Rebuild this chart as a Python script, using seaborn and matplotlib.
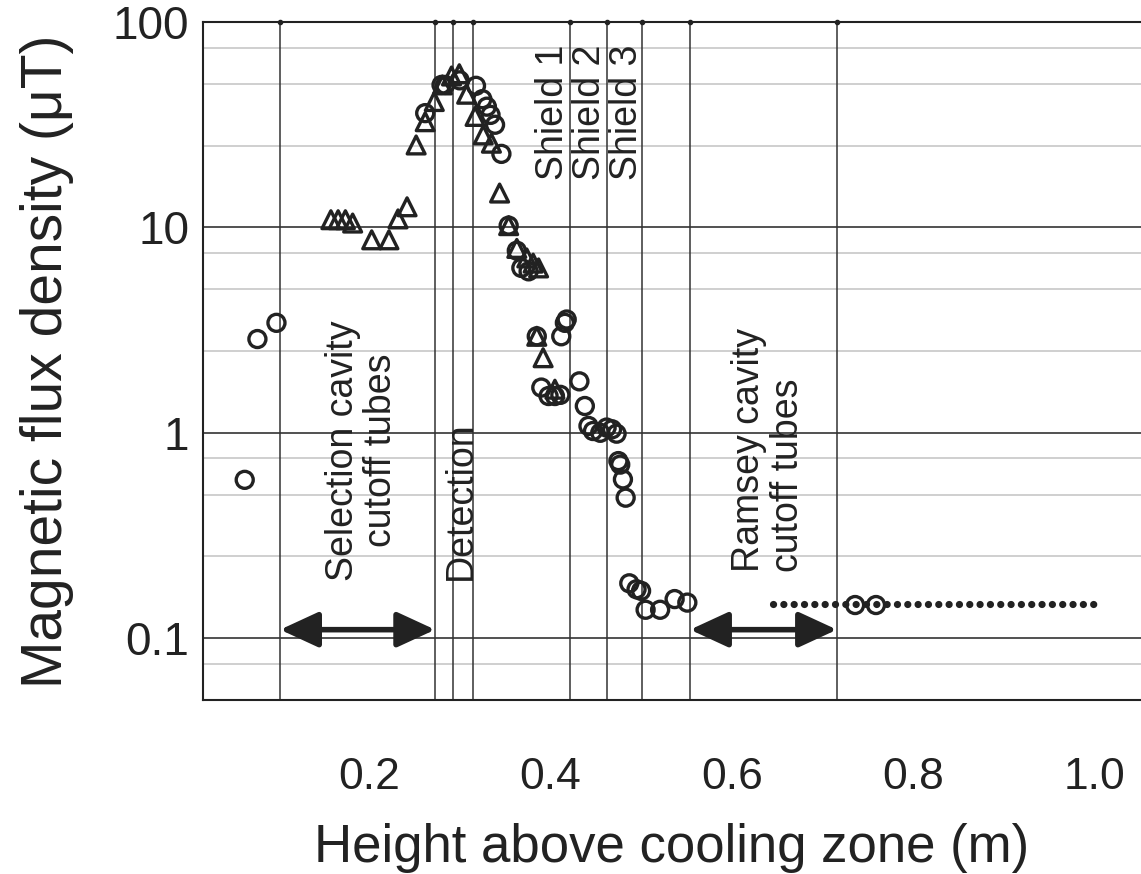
import seaborn as sns
import matplotlib.pyplot as plt
import pandas as pd

# data
circle_x = [0.063, 0.077, 0.098, 0.262, 0.280, 0.284, 0.300, 0.318, 0.325, 0.330,
            0.334, 0.339, 0.346, 0.354, 0.363, 0.368, 0.376, 0.385, 0.390, 0.398,
            0.405, 0.411, 0.412, 0.416, 0.418, 0.432, 0.438, 0.442, 0.447, 0.455,
            0.462, 0.468, 0.473, 0.475, 0.477, 0.480, 0.483, 0.487, 0.495, 0.500,
            0.505, 0.521, 0.537, 0.551, 0.736, 0.759]
circle_y = [0.59, 2.86, 3.43, 36, 49.4, 49.4, 52, 48.9, 42.1, 38.7,
            35.3, 31.6, 22.8, 10.2, 7.7, 6.35, 6.11, 2.95, 1.66, 1.51,
            1.51, 1.53, 2.95, 3.43, 3.56, 1.78, 1.35, 1.08, 1.02, 1.00,
            1.06, 1.04, 0.99, 0.728, 0.70, 0.593, 0.483, 0.185, 0.173, 0.170,
            0.1375, 0.1375, 0.155, 0.149, 0.145, 0.145]

tri_x = [0.158, 0.166, 0.174, 0.182, 0.203, 0.222, 0.232, 0.242, 0.252, 0.262,
         0.272, 0.281, 0.291, 0.2996, 0.3077, 0.317, 0.326, 0.335, 0.344, 0.354,
         0.363, 0.374, 0.381, 0.387, 0.385, 0.392, 0.405]
tri_y = [10.9, 10.9, 10.9, 10.5, 8.7, 8.7, 11.0, 12.6, 25.2, 32.7,
         41, 49.4, 54.6, 56, 44.5, 34.7, 28.2, 25.7, 14.7, 10.2,
         7.9, 7.1, 6.7, 6.35, 2.95, 2.32, 1.63]

# dotted reference level
level_x = [0.646, 1.009]
level_y = [0.146, 0.146]

# component boundaries (m)
boundaries = [0.102, 0.273, 0.2926, 0.3147, 0.4216, 0.4624, 0.501, 0.554, 0.716]

x_ticks = [0.2, 0.4, 0.6, 0.8, 1.0]
x_labels = ['0.2', '0.4', '0.6', '0.8', '1.0']
y_ticks = [0.1, 1, 10, 100]
y_labels = ['0.1', '1', '10', '100']
minor_grid = [0.075, 0.25, 0.5, 0.75, 2.5, 5, 7.5, 25, 50, 75]

circles = pd.DataFrame({'x': circle_x, 'y': circle_y})
triangles = pd.DataFrame({'x': tri_x, 'y': tri_y})

sns.set_theme(style='white')
plt.rcParams['font.family'] = ['Liberation Sans', 'DejaVu Sans']

ink = '#222222'
fig = plt.figure(figsize=(11.41, 8.74), dpi=100)
ax = fig.add_axes([203 / 1141, 1 - 700 / 874, 1 - 203 / 1141, 678 / 874])
ax.set_yscale('log')

# grid
for v in minor_grid:
    ax.axhline(v, color='#cfcfcf', lw=1.4, zorder=0)
for v in [0.1, 1, 10]:
    ax.axhline(v, color=ink, lw=1.1, zorder=0.5)
for b in boundaries:
    ax.axvline(b, color='#333333', lw=1.1, zorder=0.6)
ax.plot(boundaries, [100] * len(boundaries), 'o', color=ink, ms=3, clip_on=False, zorder=5)

ax.plot(level_x, level_y, color=ink, lw=5.2, linestyle=(0, (0.01, 1.42)),
        dash_capstyle='round', zorder=2)

sns.scatterplot(data=circles, x='x', y='y', marker='o', s=150, facecolor='none',
                edgecolor=ink, linewidth=2.4, ax=ax, zorder=3)
sns.scatterplot(data=triangles, x='x', y='y', marker='^', s=165, facecolor='none',
                edgecolor=ink, linewidth=2.4, ax=ax, zorder=3)

# arrows
arrow = dict(arrowstyle='<|-|>,head_length=1.3,head_width=0.6', mutation_scale=18,
             lw=4, color=ink, shrinkA=0, shrinkB=0)
ax.annotate('', xy=(boundaries[0], 0.11), xytext=(boundaries[1], 0.11), arrowprops=arrow)
ax.annotate('', xy=(boundaries[7], 0.11), xytext=(boundaries[8], 0.11), arrowprops=arrow)

# labels
tk = dict(rotation=90, fontsize=27, color=ink, linespacing=1.08)
ax.text(0.192, 0.82, 'Selection cavity\ncutoff tubes', ha='center', va='center',
        multialignment='center', **tk)
ax.text(0.301, 0.469, 'Detection', ha='center', va='center', **tk)
ax.text(0.403, 36.3, 'Shield 1', ha='center', va='center', **tk)
ax.text(0.4437, 36.3, 'Shield 2', ha='center', va='center', **tk)
ax.text(0.4846, 36.3, 'Shield 3', ha='center', va='center', **tk)
ax.text(0.6404, 0.2094, 'Ramsey cavity\ncutoff tubes', ha='center', va='bottom',
        multialignment='left', **tk)

ax.set_xlim(0.017, 1.0512)
ax.set_ylim(0.05, 100)
ax.set_xticks(x_ticks)
ax.set_xticklabels(x_labels, fontsize=32)
ax.set_yticks(y_ticks)
ax.set_yticklabels(y_labels, fontsize=33)
ax.minorticks_off()
ax.tick_params(axis='x', direction='out', length=9, width=1.1, color=ink, pad=32, labelcolor=ink)
ax.tick_params(axis='y', direction='out', length=8, width=1.1, color=ink, pad=2, labelcolor=ink)

ax.set_xlabel('Height above cooling zone (m)', fontsize=38, color=ink, labelpad=18)
ax.set_ylabel('Magnetic flux density (\u03bcT)', fontsize=41, color=ink, labelpad=28)

for side in ['left', 'bottom', 'top']:
    ax.spines[side].set_color(ink)
    ax.spines[side].set_linewidth(1.5)
ax.spines['right'].set_visible(False)

fig.savefig('out.png', dpi=100)
